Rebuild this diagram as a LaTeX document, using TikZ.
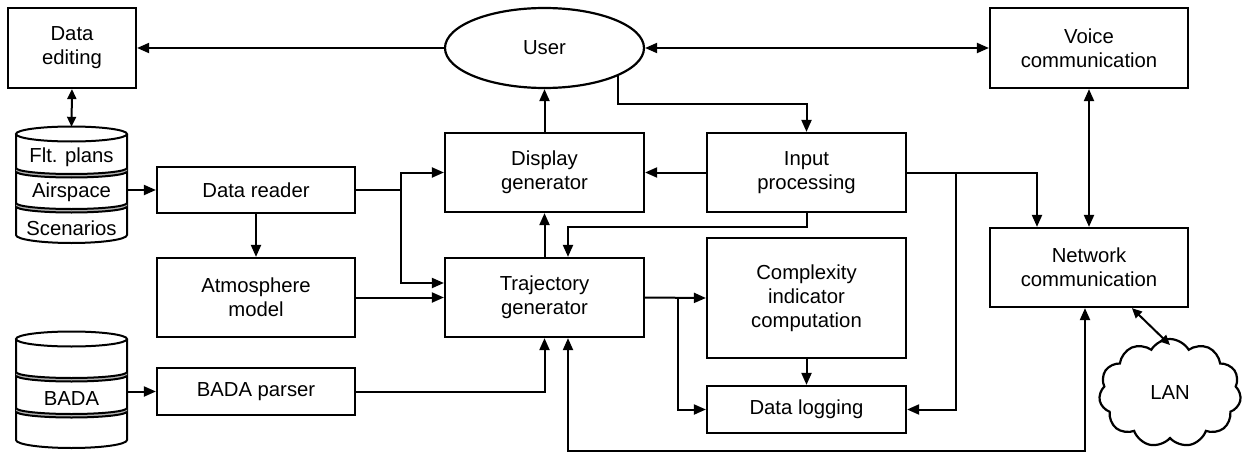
\documentclass[tikz,border=0pt]{standalone}
\usepackage{fontspec}
\setmainfont{Liberation Sans}
\usetikzlibrary{arrows.meta,shapes.geometric,shapes.symbols,calc}

\tikzset{
  box/.style={draw, line width=2.2pt, minimum width=199pt, minimum height=79pt, inner sep=0pt, align=center, font=\fontsize{20.3}{24}\selectfont},
  lbl/.style={inner sep=0pt, font=\fontsize{20.3}{24}\selectfont},
  ghost/.style={inner sep=0pt, minimum width=111pt, minimum height=116pt},
  conn/.style={line width=2pt},
  arr/.style={conn, -{Triangle[length=12pt,width=10pt]}},
  darr/.style={conn, {Triangle[length=12pt,width=10pt]}-{Triangle[length=12pt,width=10pt]}},
  sarr/.style={conn, {Triangle[length=10pt,width=9pt]}-{Triangle[length=10pt,width=9pt]}},
  dbline/.style={line width=2pt},
}

\newcommand\dbsep[2]{% #1 xc, #2 y where upper arc meets the sides
  \fill[black!30] ({#1-55.5},#2) arc[start angle=180,end angle=360,x radius=55.5pt,y radius=6pt]
     -- ({#1+55.5},{#2+3.5}) arc[start angle=360,end angle=180,x radius=55.5pt,y radius=6pt] -- cycle;
  \draw[dbline] ({#1-55.5},#2) arc[start angle=180,end angle=360,x radius=55.5pt,y radius=6pt];
  \draw[dbline] ({#1-55.5},{#2+3.5}) arc[start angle=180,end angle=360,x radius=55.5pt,y radius=6pt];
}
\newcommand\drawdb[5]{% #1 xc, #2 top ellipse centre, #3 sep1, #4 sep2, #5 bottom side end
  \fill[white] ({#1-55.5},#2) -- ({#1-55.5},#5) arc[start angle=180,end angle=360,x radius=55.5pt,y radius=8pt] -- ({#1+55.5},#2) -- cycle;
  \draw[dbline] ({#1-55.5},#2) -- ({#1-55.5},#5) arc[start angle=180,end angle=360,x radius=55.5pt,y radius=8pt] -- ({#1+55.5},#2);
  \draw[dbline] (#1,#2) ellipse[x radius=55.5pt,y radius=7.5pt];
  \dbsep{#1}{#3}
  \dbsep{#1}{#4}
}

\begin{document}
\begin{tikzpicture}[x=1pt,y=-1pt]
\useasboundingbox[fill=white] (0,0) rectangle (1242,452);

% databases
\drawdb{71.5}{134}{168}{203}{235}
\drawdb{71.5}{339}{372}{408}{440}
\node[ghost] (db1) at (71.5,185) {};
\node[ghost] (db2) at (71.5,390) {};
\node[lbl] (fp) at (71.5,157) {Flt. plans};
\node[lbl] (as) at (71.5,192) {Airspace};
\node[lbl] (sc) at (71.5,228) {Scenarios};
\node[lbl] (bada) at (71.5,399) {BADA};

% boxes
\node[box, minimum width=128pt, minimum height=80pt] (edit) at (72,48) {Data\\editing};
\node[box, ellipse, minimum height=80pt] (user) at (544.5,48) {User};
\node[box, minimum width=198pt, minimum height=80pt] (voice) at (1089,48) {Voice\\communication};
\node[box] (disp) at (544.5,172.5) {Display\\generator};
\node[box] (inp) at (806.5,172.5) {Input\\processing};
\node[box, minimum width=198pt, minimum height=46pt] (reader) at (256,190) {Data reader};
\node[box, minimum width=198pt] (atm) at (256,297.5) {Atmosphere\\model};
\node[box] (traj) at (544.5,297.5) {Trajectory\\generator};
\node[box, minimum height=120pt] (cplx) at (806.5,298) {Complexity\\indicator\\computation};
\node[box, minimum height=47pt] (log) at (806.5,409.5) {Data logging};
\node[box, minimum width=198pt, minimum height=47pt] (parser) at (256,391.5) {BADA parser};
\node[box, minimum width=198pt] (net) at (1089,267.5) {Network\\communication};
\node[draw, line width=2.2pt, cloud, cloud puffs=11, cloud puff arc=120, aspect=1.3,
      minimum width=142pt, minimum height=108pt, inner sep=0pt,
      font=\fontsize{20.3}{24}\selectfont] (lan) at (1170,393) {LAN};

% connectors
\draw[arr] (user.west) -- (edit.east);
\draw[darr] (user.east) -- (voice.west);
\draw[sarr] (edit.south) -- (db1.north);
\draw[arr] (db1.east |- reader.west) -- (reader.west);
\draw[arr] (db2.east |- parser.west) -- (parser.west);
\draw[arr] (reader.south) -- (atm.north);
\coordinate (rj) at ($(reader.east)+(45,0)$);
\draw[arr] (reader.east) -- (rj) |- (disp.west);
\draw[arr] (rj) |- ([yshift=14.5pt]traj.west);
\draw[arr] (atm.east) -- (traj.west);
\draw[arr] (parser.east) -| (traj.south);
\draw[arr] (traj.north) -- (disp.south);
\draw[arr] (disp.north) -- (user.south);
\draw[arr] (user.-21.8) -- ++(0,27.8) -| (inp.north);
\draw[arr] (inp.west) -- (disp.east);
\draw[arr] (inp.south) -- ++(0,14) -| ([xshift=23.5pt]traj.north);
\draw[arr] (inp.east) -| ([xshift=-52pt]net.north);
\draw[arr] ([xshift=49pt]inp.east) |- (log.east);
\draw[arr] (traj.east) -- (cplx.west);
\draw[arr] ([xshift=33pt]traj.east) |- (log.west);
\draw[arr] (cplx.south) -- (log.north);
\draw[darr] (voice.south) -- (net.north);
\draw[darr] ([xshift=23.5pt]traj.south) -- ++(0,113) -| ([xshift=-4pt]net.south);
\coordinate (lanin) at (1170,345);
\draw[sarr] ([xshift=143pt]net.south west) -- (lanin);
\end{tikzpicture}
\end{document}
